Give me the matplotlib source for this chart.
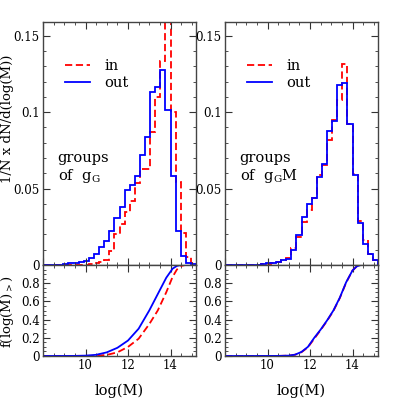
import matplotlib
matplotlib.use("Agg")
import matplotlib.pyplot as plt
import numpy as np
from matplotlib.ticker import MultipleLocator, FixedLocator

plt.rcParams['font.family'] = ['DejaVu Serif']
plt.rcParams['mathtext.fontset'] = 'dejavuserif'

# histogram bins in log(M): 30 bins from 8 to 15.2
edges = np.linspace(8.0, 15.2, 31)

# left panel (groups of gG): fraction per bin
left_in = [0, 0, 0, 0, 0, 0, 0, 0, 0, 0.0005,
           0.001, 0.0018, 0.0035, 0.009, 0.02, 0.027, 0.035, 0.042, 0.0539, 0.0629,
           0.0629, 0.0871, 0.110, 0.1332, 0.17, 0.1002, 0.054, 0.021, 0.0055, 0.001]
left_out = [0, 0, 0, 0, 0.0005, 0.0015, 0.0012, 0.0017, 0.0029, 0.0044,
            0.0072, 0.0116, 0.016, 0.0225, 0.0306, 0.0379, 0.0488, 0.0523, 0.0584, 0.0722,
            0.0836, 0.1131, 0.1164, 0.1276, 0.1013, 0.058, 0.0223, 0.0057, 0.001, 0.0005]

# right panel (groups of gGM)
right_in = [0, 0, 0, 0, 0, 0, 0, 0.0004, 0.0008, 0.0012,
            0.0022, 0.003, 0.0045, 0.011, 0.0185, 0.028, 0.036, 0.044, 0.0591, 0.0654,
            0.0819, 0.0946, 0.108, 0.1315, 0.0925, 0.0598, 0.0285, 0.0165, 0.0075, 0.003]
right_out = [0, 0, 0, 0, 0, 0, 0, 0.0005, 0.001, 0.0012,
             0.002, 0.0035, 0.004, 0.0095, 0.0195, 0.0316, 0.040, 0.0436, 0.0575, 0.066,
             0.0878, 0.0945, 0.1175, 0.119, 0.0925, 0.0586, 0.0273, 0.014, 0.007, 0.003]

# cumulative fractions (lower panels)
cl_x_in = [8.0, 10.5, 11.0, 11.5, 12.0, 12.5, 13.0, 13.4, 13.8, 14.1, 14.3, 14.5, 14.7, 15.2]
cl_in = [0, 0.002, 0.012, 0.04, 0.1, 0.19, 0.35, 0.5, 0.7, 0.87, 0.95, 0.99, 1.0, 1.0]
cl_x_out = [8.0, 9.5, 10.0, 10.5, 11.0, 11.5, 12.0, 12.5, 13.0, 13.4, 13.8, 14.1, 14.3, 14.5, 15.2]
cl_out = [0, 0.001, 0.004, 0.013, 0.04, 0.09, 0.17, 0.3, 0.5, 0.68, 0.86, 0.96, 0.99, 1.0, 1.0]

cr_x = [8.0, 10.5, 11.0, 11.3, 11.6, 11.9, 12.2, 12.5, 12.8, 13.1, 13.4, 13.7, 14.0, 14.2, 14.4, 15.2]
cr_in = [0, 0.001, 0.004, 0.014, 0.042, 0.095, 0.19, 0.285, 0.385, 0.495, 0.635, 0.805, 0.94, 0.985, 1.0, 1.0]
cr_out = [0, 0.001, 0.004, 0.015, 0.045, 0.1, 0.2, 0.29, 0.39, 0.5, 0.64, 0.81, 0.94, 0.985, 1.0, 1.0]

labels = ['groups\nof  g$_{\\rm G}$', 'groups\nof  g$_{\\rm G}$M']

fig = plt.figure(figsize=(3.99, 3.99), dpi=100)
W = 153 / 399
lefts = [43 / 399, 225 / 399]
top_b, top_h = 1 - 265 / 399, 243 / 399
bot_b, bot_h = 1 - 356 / 399, 91 / 399

hists = [(left_in, left_out), (right_in, right_out)]
cdfs = [((cl_x_in, cl_in), (cl_x_out, cl_out)), ((cr_x, cr_in), (cr_x, cr_out))]


def style(ax):
    ax.tick_params(which='both', direction='in', top=True, right=True, labelsize=8.5,
                   color='#333333', pad=2.5)
    ax.tick_params(which='major', length=5)
    ax.tick_params(which='minor', length=2.5)
    for s in ax.spines.values():
        s.set_color('#444444')
        s.set_linewidth(1.0)


for i in range(2):
    ax = fig.add_axes([lefts[i], top_b, W, top_h])
    h_in, h_out = hists[i]
    ax.stairs(h_in, edges, color='red', ls=(0, (4, 2)), lw=1.3, label='in')
    ax.stairs(h_out, edges, color='blue', lw=1.3, label='out')
    ax.set_xlim(8.0, 15.2)
    ax.set_ylim(0, 0.159)
    ax.yaxis.set_major_locator(FixedLocator([0, 0.05, 0.1, 0.15]))
    ax.set_yticklabels(['0', '0.05', '0.1', '0.15'])
    ax.yaxis.set_minor_locator(MultipleLocator(0.01))
    ax.xaxis.set_major_locator(MultipleLocator(2))
    ax.xaxis.set_minor_locator(MultipleLocator(0.5))
    ax.tick_params(labelbottom=False)
    style(ax)
    ax.legend(frameon=False, loc='upper left', bbox_to_anchor=(0.06, 0.9),
              handlelength=1.7, fontsize=10.5, labelspacing=0.15, handletextpad=1.0)
    ax.text(0.095, 0.47, labels[i], transform=ax.transAxes, fontsize=10.5,
            va='top', ha='left', linespacing=1.15)
    if i == 0:
        ax.set_ylabel('1/N x dN/d(log(M))', fontsize=9.5, va='center')
        ax.yaxis.set_label_coords(-0.235, 0.6)

    bx = fig.add_axes([lefts[i], bot_b, W, bot_h])
    (xi, yi), (xo, yo) = cdfs[i]
    bx.plot(xi, yi, color='red', ls=(0, (4, 2)), lw=1.3)
    bx.plot(xo, yo, color='blue', lw=1.3)
    bx.set_xlim(8.0, 15.2)
    bx.set_ylim(0, 1.0)
    bx.yaxis.set_major_locator(FixedLocator([0, 0.2, 0.4, 0.6, 0.8]))
    bx.set_yticklabels(['0', '0.2', '0.4', '0.6', '0.8'])
    bx.yaxis.set_minor_locator(MultipleLocator(0.05))
    bx.xaxis.set_major_locator(FixedLocator([10, 12, 14]))
    bx.xaxis.set_minor_locator(MultipleLocator(0.5))
    style(bx)
    bx.set_xlabel('log(M)', fontsize=10.5, labelpad=8)
    if i == 0:
        bx.set_ylabel('f(log(M)$_{>}$)', fontsize=9.5, va='center')
        bx.yaxis.set_label_coords(-0.235, 0.49)

fig.savefig('out.png', dpi=100)
